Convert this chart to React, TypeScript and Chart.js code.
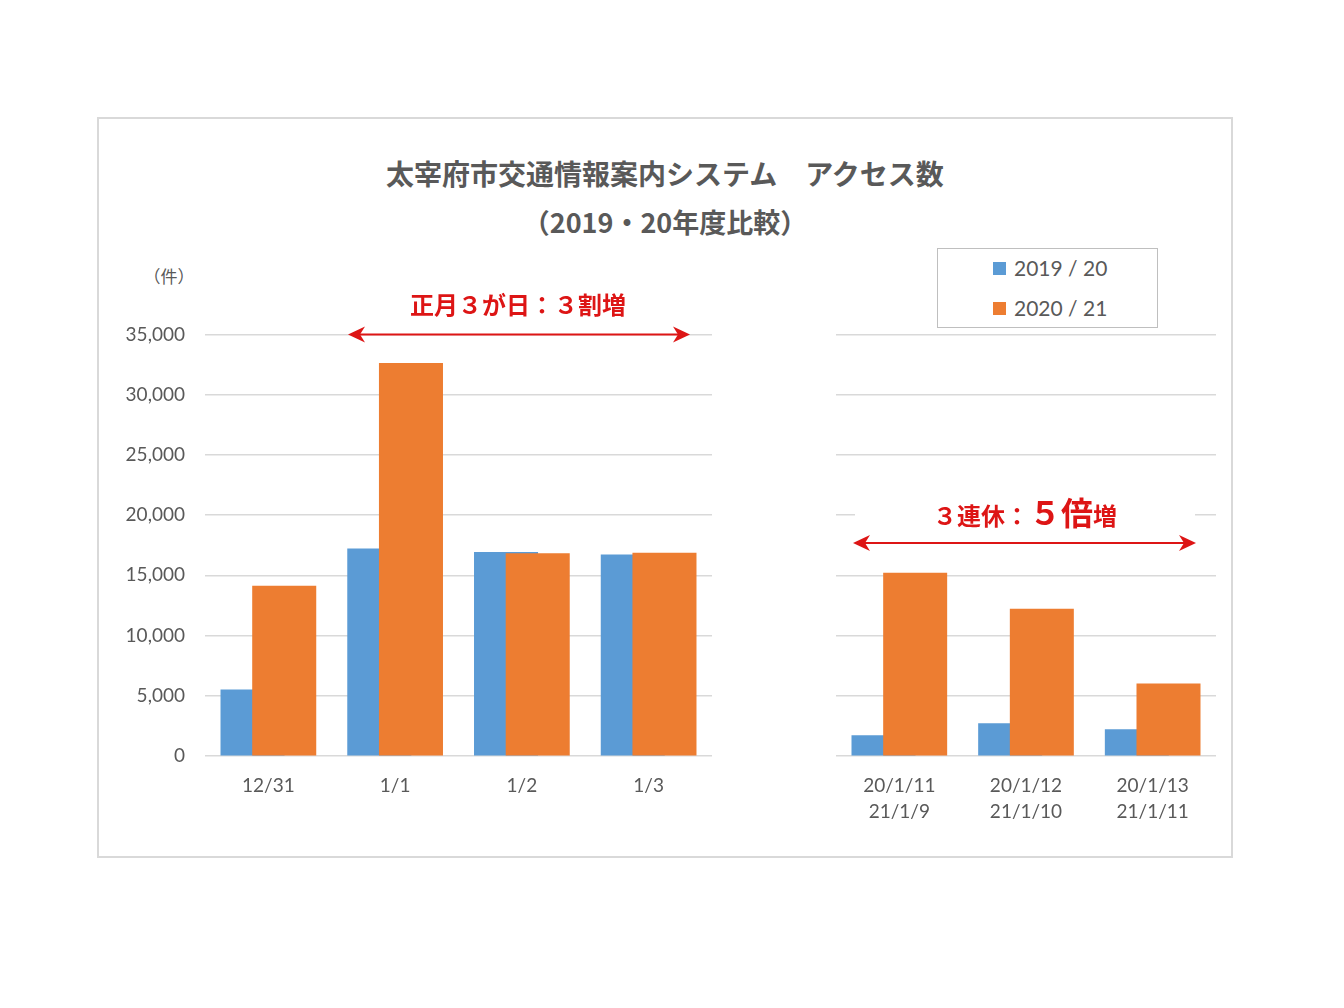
import React, { useEffect, useRef } from "react";
import { Chart, registerables } from "chart.js";

Chart.register(...registerables);

// ---------- data ----------
const seriesNames = ["2019 / 20", "2020 / 21"];
const seriesColors = ["#5B9BD5", "#ED7D31"];

const newYearCategories = ["12/31", "1/1", "1/2", "1/3"];
const newYearPrev = [5500, 17200, 16900, 16700];
const newYearCurr = [14100, 32600, 16800, 16850];

const holidayCategories = [
  ["20/1/11", "21/1/9"],
  ["20/1/12", "21/1/10"],
  ["20/1/13", "21/1/11"],
];
const holidayPrev = [1700, 2700, 2200];
const holidayCurr = [15200, 12200, 6000];

const yMin = 0;
const yMax = 35000;
const yStep = 5000;

const titleLine1 = "太宰府市交通情報案内システム　アクセス数";
const titleLine2 = "（2019・20年度比較）";
const unitLabel = "（件）";
const noteLeft = "正月３が日：３割増";
const noteRightA = "３連休：";
const noteRightB = "５倍";
const noteRightC = "増";

// ---------- styles ----------
const TEXT = "#595959";
const GRID = "#D9D9D9";
const RED = "#DD1515";
const LATIN = "Lato, 'Noto Sans', sans-serif";
const CJK = "'Noto Sans CJK JP', 'Noto Sans', sans-serif";

// draw the second series after the first so it overlaps it
const drawOrderPlugin = {
  id: "drawOrder",
  beforeDatasetDraw(chart: any, args: any) {
    if (args.index === 1) return false;
  },
  afterDatasetsDraw(chart: any) {
    const meta = chart.getDatasetMeta(1);
    if (meta && meta.controller) meta.controller.draw();
  },
};

type PanelProps = {
  labels: any[];
  prev: number[];
  curr: number[];
  showY: boolean;
  left: number;
  top: number;
  width: number;
  height: number;
  yAxisWidth: number;
  padRight: number;
  padTop: number;
};

function BarPanel(p: PanelProps) {
  const ref = useRef<HTMLCanvasElement | null>(null);
  useEffect(() => {
    if (!ref.current) return;
    const chart = new Chart(ref.current, {
      type: "bar",
      data: {
        labels: p.labels,
        datasets: [
          {
            label: seriesNames[0],
            data: p.prev,
            backgroundColor: seriesColors[0],
            borderWidth: 0,
            categoryPercentage: 0.5,
            barPercentage: 2,
          },
          {
            label: seriesNames[1],
            data: p.curr,
            backgroundColor: seriesColors[1],
            borderWidth: 0,
            categoryPercentage: 0.5,
            barPercentage: 2,
          },
        ],
      },
      plugins: [drawOrderPlugin],
      options: {
        responsive: false,
        animation: false,
        devicePixelRatio: 1,
        layout: { padding: { top: p.padTop, right: p.padRight, bottom: 0, left: 0 } },
        plugins: { legend: { display: false }, tooltip: { enabled: false }, title: { display: false } },
        scales: {
          x: {
            type: "category",
            grid: { display: false },
            border: { display: false },
            ticks: {
              color: TEXT,
              font: { family: LATIN, size: 19, lineHeight: 1.37 },
              padding: 9,
              maxRotation: 0,
              autoSkip: false,
            },
            afterFit: (s: any) => {
              s.height = 84;
            },
          },
          y: {
            min: yMin,
            max: yMax,
            border: { display: false },
            grid: { color: GRID, lineWidth: 1.5, drawTicks: false },
            ticks: {
              display: p.showY,
              stepSize: yStep,
              color: TEXT,
              padding: 20,
              font: { family: LATIN, size: 19 },
              callback: (v: any) => Number(v).toLocaleString("en-US"),
            },
            afterFit: (s: any) => {
              s.width = p.yAxisWidth;
            },
          },
        },
      } as any,
    });
    return () => chart.destroy();
  }, []);
  return (
    <canvas
      ref={ref}
      width={p.width}
      height={p.height}
      style={{ position: "absolute", left: p.left, top: p.top, width: p.width, height: p.height }}
    />
  );
}

function Arrow({ x1, x2, y }: { x1: number; x2: number; y: number }) {
  const L = 17;
  const H = 8;
  const N = 5;
  return (
    <g>
      <line x1={x1 + L - N} y1={y} x2={x2 - L + N} y2={y} stroke={RED} strokeWidth={2} />
      <path d={`M ${x1} ${y} L ${x1 + L} ${y - H} L ${x1 + L - N} ${y} L ${x1 + L} ${y + H} Z`} fill={RED} />
      <path d={`M ${x2} ${y} L ${x2 - L} ${y - H} L ${x2 - L + N} ${y} L ${x2 - L} ${y + H} Z`} fill={RED} />
    </g>
  );
}

export default function App() {
  return (
    <div
      style={{
        position: "absolute",
        left: 0,
        top: 0,
        width: 1344,
        height: 1008,
        background: "#ffffff",
        overflow: "hidden",
      }}
    >
      <div
        style={{
          position: "absolute",
          left: 97,
          top: 117,
          width: 1136,
          height: 741,
          border: `2px solid ${GRID}`,
          boxSizing: "border-box",
        }}
      />

      <BarPanel
        labels={newYearCategories}
        prev={newYearPrev}
        curr={newYearCurr}
        showY={true}
        left={100}
        top={303}
        width={620}
        height={537}
        yAxisWidth={105}
        padRight={8}
        padTop={18}
      />
      <BarPanel
        labels={holidayCategories}
        prev={holidayPrev}
        curr={holidayCurr}
        showY={false}
        left={820}
        top={310}
        width={410}
        height={530}
        yAxisWidth={16}
        padRight={14}
        padTop={24.6}
      />

      {/* title */}
      <div
        style={{
          position: "absolute",
          left: 165,
          width: 1000,
          top: 155,
          height: 36,
          lineHeight: "36px",
          textAlign: "center",
          fontFamily: CJK,
          fontWeight: 700,
          fontSize: 28,
          color: TEXT,
          whiteSpace: "pre",
        }}
      >
        {titleLine1}
      </div>
      <div
        style={{
          position: "absolute",
          left: 165,
          width: 1000,
          top: 204,
          height: 36,
          lineHeight: "36px",
          textAlign: "center",
          fontFamily: CJK,
          fontWeight: 700,
          fontSize: 27,
          color: TEXT,
          whiteSpace: "pre",
        }}
      >
        {titleLine2}
      </div>

      {/* unit */}
      <div
        style={{
          position: "absolute",
          left: 119,
          width: 100,
          top: 264,
          height: 24,
          lineHeight: "24px",
          textAlign: "center",
          fontFamily: CJK,
          fontSize: 17,
          color: TEXT,
        }}
      >
        {unitLabel}
      </div>

      {/* legend */}
      <div
        style={{
          position: "absolute",
          left: 937,
          top: 248,
          width: 221,
          height: 80,
          border: "1.5px solid #BFBFBF",
          boxSizing: "border-box",
          background: "#ffffff",
        }}
      >
        {seriesNames.map((name, i) => (
          <div
            key={name}
            style={{
              position: "absolute",
              left: 55,
              top: 6 + i * 40,
              height: 26,
              display: "flex",
              alignItems: "center",
              whiteSpace: "pre",
            }}
          >
            <span
              style={{
                display: "inline-block",
                width: 13,
                height: 13,
                background: seriesColors[i],
                marginRight: 8,
              }}
            />
            <span style={{ fontFamily: LATIN, fontSize: 21, color: TEXT, lineHeight: "26px" }}>{name}</span>
          </div>
        ))}
      </div>

      {/* annotations */}
      <div
        style={{
          position: "absolute",
          left: 318,
          width: 400,
          top: 287,
          height: 34,
          lineHeight: "34px",
          textAlign: "center",
          fontFamily: CJK,
          fontWeight: 700,
          fontSize: 24,
          color: RED,
        }}
      >
        {noteLeft}
      </div>
      <div
        style={{
          position: "absolute",
          left: 855,
          width: 340,
          top: 492,
          height: 38,
          lineHeight: "38px",
          textAlign: "center",
          fontFamily: CJK,
          fontWeight: 700,
          color: RED,
          background: "#ffffff",
          whiteSpace: "pre",
        }}
      >
        <span style={{ fontSize: 24 }}>{noteRightA}</span>
        <span style={{ fontSize: 32 }}>{noteRightB}</span>
        <span style={{ fontSize: 24 }}>{noteRightC}</span>
      </div>

      <svg
        width={1344}
        height={1008}
        style={{ position: "absolute", left: 0, top: 0, pointerEvents: "none" }}
      >
        <Arrow x1={348} x2={690} y={334.5} />
        <Arrow x1={853} x2={1196} y={543} />
      </svg>
    </div>
  );
}
